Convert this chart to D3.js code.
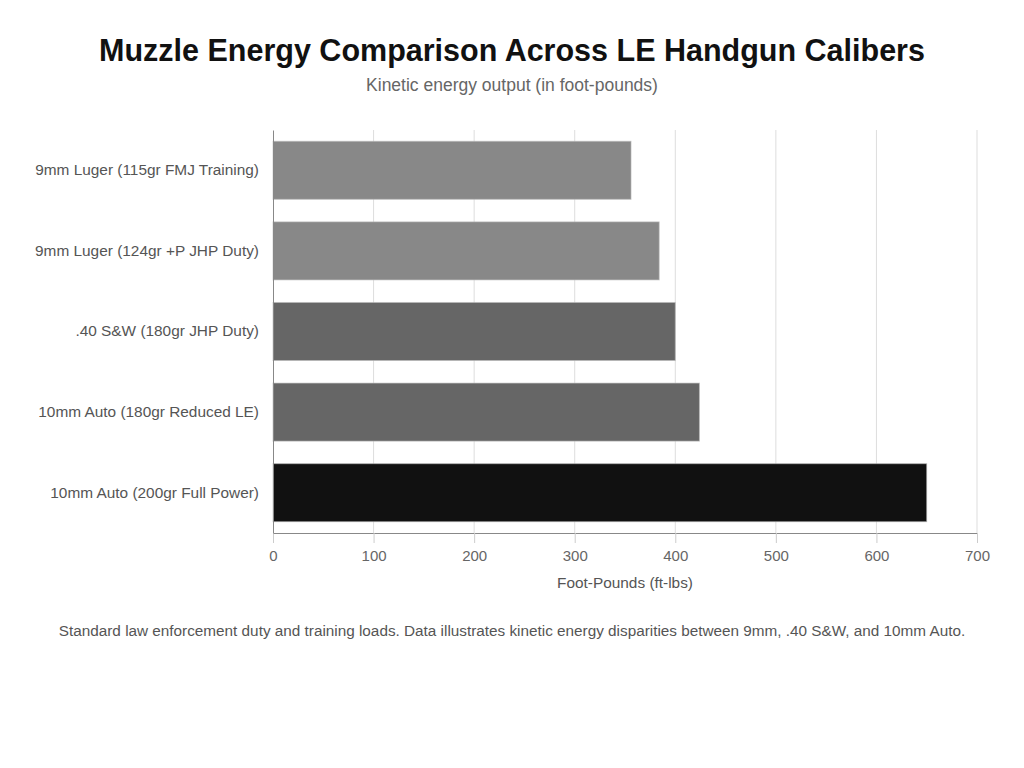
<!DOCTYPE html>
<html>
<head>
<meta charset="utf-8">
<title>Muzzle Energy Comparison</title>
<script src="https://d3js.org/d3.v7.min.js"></script>
<style>
  body { margin: 0; background: #fff; font-family: "Liberation Sans", Arial, sans-serif; }
  .x-axis path, .y-axis path { stroke: #888; }
  .x-axis line { stroke: #ccc; }
  .grid line { stroke: #ddd; }
</style>
</head>
<body>
<svg id="chart" width="1024" height="768"></svg>
<script>
var categories = [
  "9mm Luger (115gr FMJ Training)",
  "9mm Luger (124gr +P JHP Duty)",
  ".40 S&W (180gr JHP Duty)",
  "10mm Auto (180gr Reduced LE)",
  "10mm Auto (200gr Full Power)"
];
var energies = [356, 384, 400, 424, 650];
var barColors = ["#888888", "#888888", "#666666", "#666666", "#111111"];
var xTicks = [0, 100, 200, 300, 400, 500, 600, 700];

var svg = d3.select("#chart");
var margin = {top: 130, left: 273, right: 47, bottom: 235};
var width = 1024 - margin.left - margin.right,
    height = 768 - margin.top - margin.bottom;

var x = d3.scaleLinear().domain([0, 700]).range([0, width]);
var y = d3.scaleBand().domain(categories).range([0, height])
    .paddingInner(0.28).paddingOuter(0.14);

svg.append("text")
  .attr("x", 512).attr("y", 61)
  .attr("text-anchor", "middle")
  .style("font-size", "30.5px").style("font-weight", "bold").style("fill", "#111")
  .text("Muzzle Energy Comparison Across LE Handgun Calibers");

svg.append("text")
  .attr("x", 512).attr("y", 91)
  .attr("text-anchor", "middle")
  .style("font-size", "17.5px").style("fill", "#666")
  .text("Kinetic energy output (in foot-pounds)");

var g = svg.append("g").attr("transform", "translate(" + margin.left + "," + margin.top + ")");

// vertical gridlines
g.append("g").attr("class", "grid")
  .selectAll("line").data(xTicks.slice(1)).enter().append("line")
  .attr("x1", function(d){ return x(d); })
  .attr("x2", function(d){ return x(d); })
  .attr("y1", 0).attr("y2", height);

g.selectAll("rect.bar").data(energies).enter().append("rect")
  .attr("class", "bar")
  .attr("x", 0)
  .attr("y", function(d, i){ return y(categories[i]); })
  .attr("width", function(d){ return x(d); })
  .attr("height", y.bandwidth())
  .style("fill", function(d, i){ return barColors[i]; })
  .style("stroke", "#bbb").style("stroke-width", 1).style("stroke-opacity", 0.6);

var xAxis = g.append("g").attr("class", "x-axis")
  .attr("transform", "translate(0," + height + ")")
  .call(d3.axisBottom(x).tickValues(xTicks).tickSize(10).tickSizeOuter(0).tickPadding(7));
xAxis.selectAll("text").style("font-size", "15px").style("fill", "#666")
  .style("font-family", "'Liberation Sans', Arial, sans-serif");

var yAxis = g.append("g").attr("class", "y-axis")
  .call(d3.axisLeft(y).tickSize(0).tickPadding(14));
yAxis.selectAll("text").style("font-size", "15.4px").style("fill", "#555")
  .style("font-family", "'Liberation Sans', Arial, sans-serif");

svg.append("text")
  .attr("x", margin.left + width / 2).attr("y", 588)
  .attr("text-anchor", "middle")
  .style("font-size", "15.4px").style("fill", "#555")
  .text("Foot-Pounds (ft-lbs)");

svg.append("text")
  .attr("x", 512).attr("y", 636)
  .attr("text-anchor", "middle")
  .style("font-size", "15.3px").style("fill", "#555")
  .text("Standard law enforcement duty and training loads. Data illustrates kinetic energy disparities between 9mm, .40 S&W, and 10mm Auto.");
</script>
</body>
</html>
